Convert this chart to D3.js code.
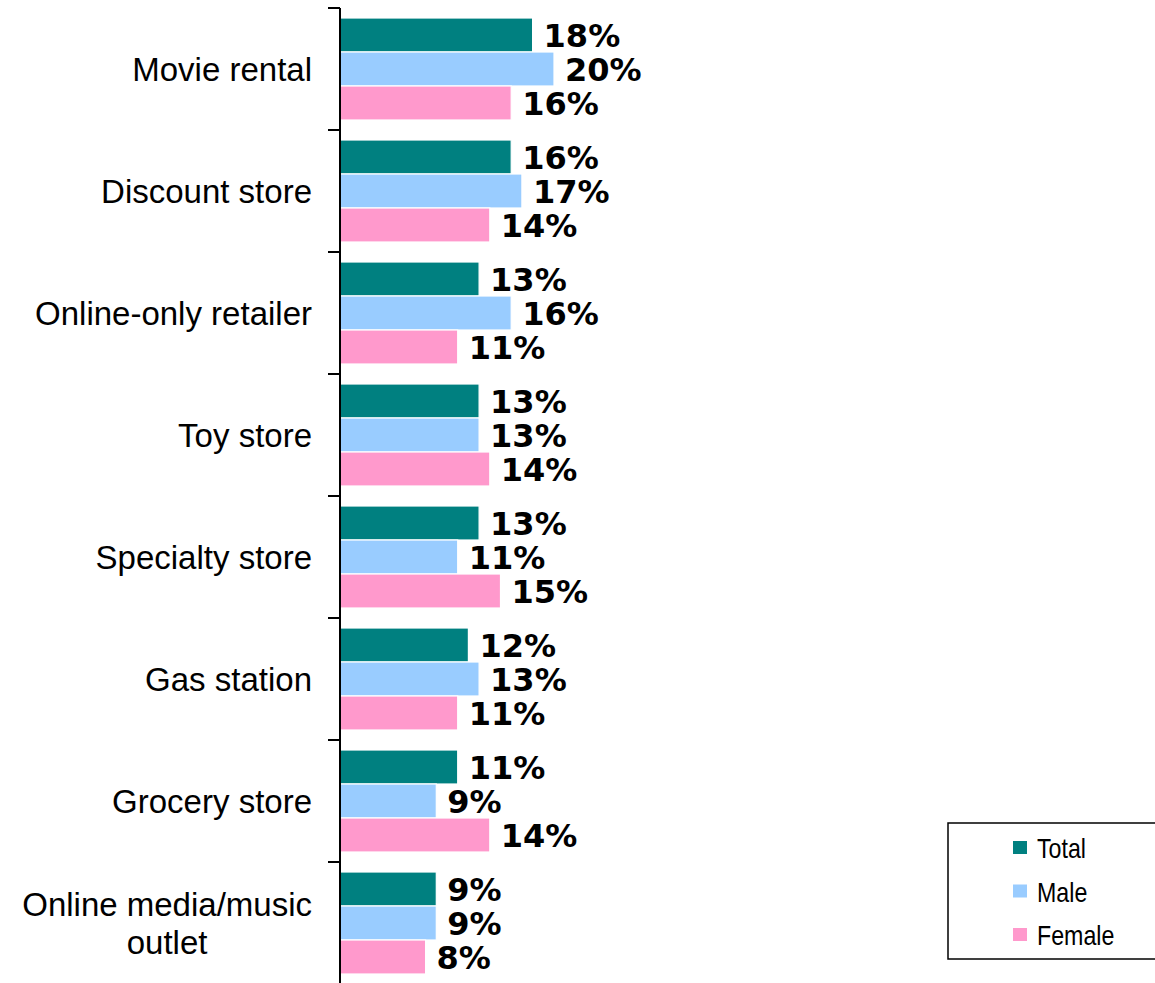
<!DOCTYPE html>
<html>
<head>
<meta charset="utf-8">
<script src="https://cdn.jsdelivr.net/npm/d3@7"></script>
<style>
  html, body { margin: 0; padding: 0; background: #fff; }
  svg { display: block; }
</style>
</head>
<body>
<svg id="chart" width="1155" height="983"></svg>
<script>
// Share of respondents by purchase location, split by gender
const categories = [
  "Movie rental",
  "Discount store",
  "Online-only retailer",
  "Toy store",
  "Specialty store",
  "Gas station",
  "Grocery store",
  "Online media/music outlet"
];
const seriesNames = ["Total", "Male", "Female"];
const totalValues  = [18, 16, 13, 13, 13, 12, 11, 9];
const maleValues   = [20, 17, 16, 13, 11, 13, 9, 9];
const femaleValues = [16, 14, 11, 14, 15, 11, 14, 8];
const seriesColors = ["#008080", "#99CCFF", "#FF99CC"];

const seriesValues = [totalValues, maleValues, femaleValues];
const rows = categories.map((c, i) => ({
  category: c,
  values: seriesNames.map((s, k) => ({ series: s, value: seriesValues[k][i], color: seriesColors[k] }))
}));

const svg = d3.select("#chart");
const axisX = 340;

const y = d3.scaleBand()
  .domain(categories)
  .range([8, 984])
  .paddingInner(0)
  .paddingOuter(0);

const groupPad = 10;
const ySub = d3.scaleBand()
  .domain(seriesNames)
  .range([groupPad, y.bandwidth() - groupPad])
  .padding(0);

const x = d3.scaleLinear()
  .domain([0, 20])
  .range([axisX, axisX + 214]);

// Bars
const groups = svg.append("g")
  .selectAll("g")
  .data(rows)
  .join("g")
  .attr("transform", d => `translate(0,${y(d.category)})`);

groups.selectAll("rect")
  .data(d => d.values)
  .join("rect")
  .attr("x", x(0))
  .attr("y", d => ySub(d.series))
  .attr("width", d => x(d.value) - x(0))
  .attr("height", ySub.bandwidth())
  .attr("fill", d => d.color)
  .attr("stroke", "#ffffff")
  .attr("stroke-width", 1.2);

// Value labels
groups.selectAll("text.value")
  .data(d => d.values)
  .join("text")
  .attr("class", "value")
  .attr("x", d => x(d.value) + 11)
  .attr("y", d => ySub(d.series) + ySub.bandwidth() / 2 + 12)
  .attr("font-family", "'DejaVu Sans', Verdana, sans-serif")
  .attr("font-weight", "bold")
  .attr("font-size", 32)
  .attr("fill", "#000")
  .text(d => d.value + "%");

// Category axis: boundary ticks between groups
const boundaries = d3.range(categories.length + 1).map(i => 8 + i * y.step());
const axisG = svg.append("g");
axisG.append("line")
  .attr("x1", axisX).attr("x2", axisX)
  .attr("y1", 8).attr("y2", 983)
  .attr("stroke", "#000").attr("stroke-width", 2);
axisG.selectAll("line.tick")
  .data(boundaries)
  .join("line")
  .attr("class", "tick")
  .attr("x1", axisX - 12).attr("x2", axisX)
  .attr("y1", d => d).attr("y2", d => d)
  .attr("stroke", "#000").attr("stroke-width", 2);

// Category labels (wrapped labels are centred as a block, right-aligned to the axis)
const labelRight = 312;
const labelFont = "'Liberation Sans', Arial, sans-serif";
const wrapMap = { "Online media/music outlet": ["Online media/music", "outlet"] };
categories.forEach(c => {
  const lines = wrapMap[c] || [c];
  const cy = y(c) + y.bandwidth() / 2;
  const lh = 38;
  const t = svg.append("text")
    .attr("font-family", labelFont)
    .attr("font-size", 33)
    .attr("fill", "#000");
  const first = cy + 12 - (lines.length - 1) * lh / 2;
  const spans = lines.map((ln, i) => t.append("tspan")
    .attr("y", first + i * lh)
    .text(ln));
  if (lines.length === 1) {
    t.attr("text-anchor", "end");
    spans[0].attr("x", labelRight);
  } else {
    const maxW = d3.max(spans, s => s.node().getComputedTextLength());
    t.attr("text-anchor", "middle");
    spans.forEach(s => s.attr("x", labelRight - maxW / 2));
  }
});

// Legend
const legend = svg.append("g").attr("transform", "translate(948,823)");
legend.append("rect")
  .attr("x", 0).attr("y", 0)
  .attr("width", 230).attr("height", 136)
  .attr("fill", "#fff")
  .attr("stroke", "#000").attr("stroke-width", 1.5);
const items = legend.selectAll("g.item")
  .data(seriesNames.map((s, k) => ({ name: s, color: seriesColors[k] })))
  .join("g")
  .attr("class", "item")
  .attr("transform", (d, i) => `translate(0,${i * 43.5})`);
items.append("rect")
  .attr("x", 65).attr("y", 18)
  .attr("width", 14).attr("height", 13)
  .attr("fill", d => d.color);
// condensed legend text
items.append("text")
  .attr("transform", "translate(89,35) scale(0.86,1)")
  .attr("font-family", "'Liberation Sans Narrow', 'Arial Narrow', 'Liberation Sans', sans-serif")
  .attr("font-size", 27)
  .attr("fill", "#000")
  .text(d => d.name);
</script>
</body>
</html>
